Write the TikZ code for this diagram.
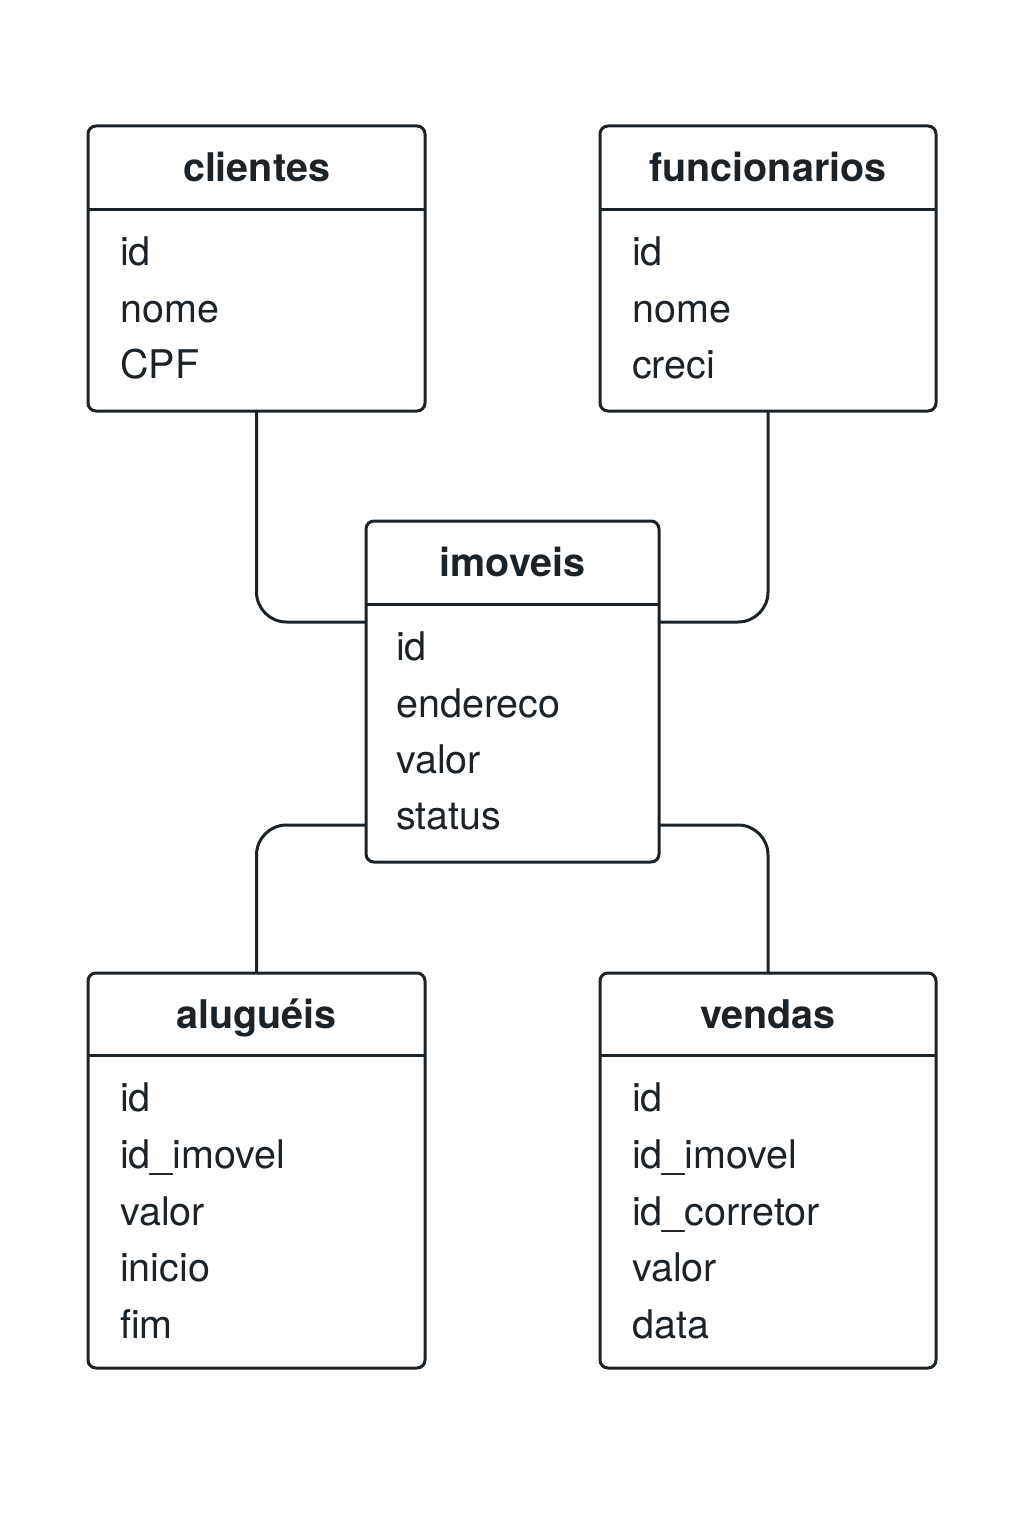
\documentclass[tikz,border=0pt]{standalone}
\usepackage{fontspec}
\setmainfont{TeX Gyre Heros}
\definecolor{ink}{HTML}{1B2329}
\begin{document}
\begin{tikzpicture}[x=1pt,y=-1pt,
  tbl/.style={draw=ink,line width=3pt,rounded corners=8pt,inner sep=0pt},
  sep/.style={draw=ink,line width=3pt},
  head/.style={anchor=base,font=\fontsize{39.5}{42}\selectfont\bfseries,text=ink,inner sep=0pt},
  fld/.style={anchor=base west,font=\fontsize{39.5}{42}\selectfont,text=ink,inner sep=0pt},
  link/.style={draw=ink,line width=3pt,rounded corners=30pt}]
\useasboundingbox (0,0) rectangle (1024,1536);
% clientes
\draw[tbl] (88,126) rectangle (425,411);
\coordinate (cliB) at (256.5,411);
\draw[sep] (88,209) -- (425,209);
\node[head] (cliH) at (256.5,181) {clientes};
\node[fld] (cli1) at (120,265) {id};
\node[fld] (cli2) at (120,322) {nome};
\node[fld] (cli3) at (120,378) {CPF};
% funcionarios
\draw[tbl] (600,126) rectangle (936,411);
\coordinate (funB) at (768,411);
\draw[sep] (600,209) -- (936,209);
\node[head] (funH) at (768,181) {funcionarios};
\node[fld] (fun1) at (632,265) {id};
\node[fld] (fun2) at (632,322) {nome};
\node[fld] (fun3) at (632,378) {creci};
% imoveis
\draw[tbl] (366,521) rectangle (659,862);
\coordinate (imoL1) at (366,622);
\coordinate (imoR1) at (659,622);
\coordinate (imoL2) at (366,825);
\coordinate (imoR2) at (659,825);
\draw[sep] (366,604) -- (659,604);
\node[head] (imoH) at (512.5,576) {imoveis};
\node[fld] (imo1) at (396,660) {id};
\node[fld] (imo2) at (396,717) {endereco};
\node[fld] (imo3) at (396,773) {valor};
\node[fld] (imo4) at (396,829) {status};
% alugueis
\draw[tbl] (88,973) rectangle (425,1368);
\coordinate (aluT) at (256.5,973);
\draw[sep] (88,1055) -- (425,1055);
\node[head] (aluH) at (256.5,1028) {aluguéis};
\node[fld] (alu1) at (120,1111) {id};
\node[fld] (alu2) at (120,1168) {id\_imovel};
\node[fld] (alu3) at (120,1225) {valor};
\node[fld] (alu4) at (120,1281) {inicio};
\node[fld] (alu5) at (120,1338) {fim};
% vendas
\draw[tbl] (600,973) rectangle (936,1368);
\coordinate (venT) at (768,973);
\draw[sep] (600,1055) -- (936,1055);
\node[head] (venH) at (768,1028) {vendas};
\node[fld] (ven1) at (632,1111) {id};
\node[fld] (ven2) at (632,1168) {id\_imovel};
\node[fld] (ven3) at (632,1225) {id\_corretor};
\node[fld] (ven4) at (632,1281) {valor};
\node[fld] (ven5) at (632,1338) {data};
% connectors
\draw[link] (cliB) |- (imoL1);
\draw[link] (funB) |- (imoR1);
\draw[link] (imoL2) -| (aluT);
\draw[link] (imoR2) -| (venT);
\end{tikzpicture}
\end{document}
